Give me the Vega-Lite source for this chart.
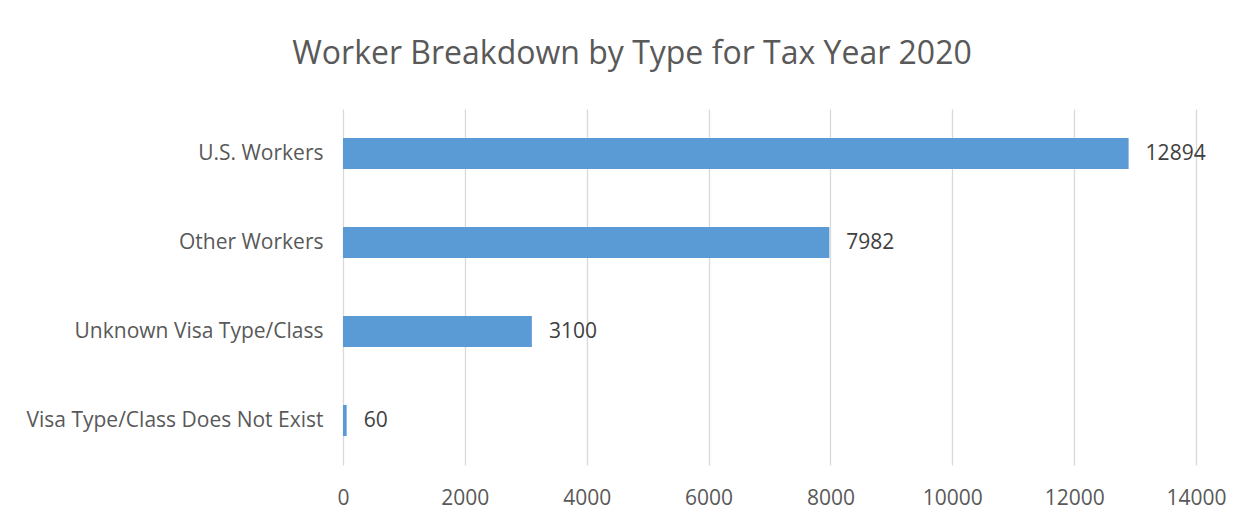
{
  "$schema": "https://vega.github.io/schema/vega-lite/v6.json",
  "width": 853,
  "height": 356,
  "padding": {"left": 25, "top": 38, "right": 10, "bottom": 5},
  "background": "white",
  "title": {
    "text": "Worker Breakdown by Type for Tax Year 2020",
    "font": "Open Sans",
    "fontSize": 32,
    "fontWeight": "normal",
    "color": "#595959",
    "anchor": "middle",
    "frame": "bounds",
    "dx": 6,
    "offset": 38
  },
  "config": {
    "view": {"stroke": null},
    "font": "Open Sans"
  },
  "data": {
    "values": [
      {"type": "U.S. Workers", "count": 12894},
      {"type": "Other Workers", "count": 7982},
      {"type": "Unknown Visa Type/Class", "count": 3100},
      {"type": "Visa Type/Class Does Not Exist", "count": 60}
    ]
  },
  "encoding": {
    "y": {
      "field": "type",
      "type": "nominal",
      "sort": null,
      "scale": {"paddingInner": 0.65, "paddingOuter": 0.325},
      "axis": {
        "title": null,
        "ticks": false,
        "domain": false,
        "labelFont": "Open Sans",
        "labelFontSize": 21,
        "labelColor": "#595959",
        "labelPadding": 20,
        "labelLimit": 400
      }
    },
    "x": {
      "field": "count",
      "type": "quantitative",
      "scale": {"domain": [0, 14000], "nice": false},
      "axis": {
        "title": null,
        "values": [0, 2000, 4000, 6000, 8000, 10000, 12000, 14000],
        "format": "d",
        "ticks": false,
        "domain": false,
        "grid": true,
        "gridColor": "#d9d9d9",
        "gridWidth": 1.3,
        "labelFlush": false,
        "labelFont": "Open Sans",
        "labelFontSize": 21,
        "labelColor": "#595959",
        "labelPadding": 22
      }
    }
  },
  "layer": [
    {"mark": {"type": "bar", "color": "#5b9bd5"}},
    {
      "mark": {"type": "text", "align": "left", "baseline": "middle", "dx": 17, "font": "Open Sans", "fontSize": 21, "color": "#404040"},
      "encoding": {"text": {"field": "count", "type": "quantitative", "format": "d"}}
    }
  ]
}
